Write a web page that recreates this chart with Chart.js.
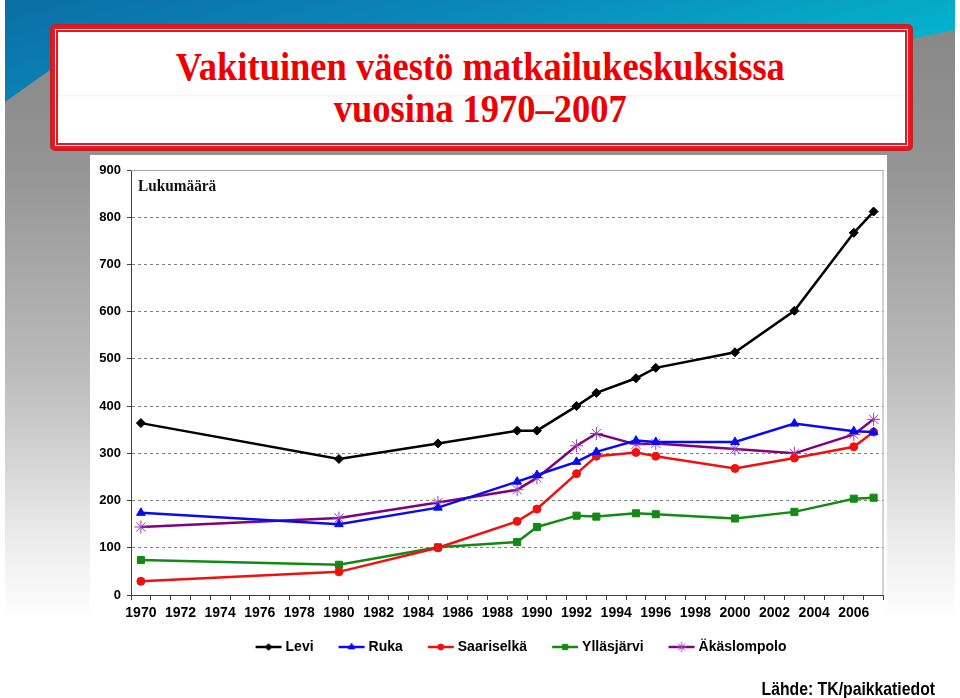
<!DOCTYPE html>
<html>
<head>
<meta charset="utf-8">
<title>Vakituinen väestö matkailukeskuksissa</title>
<script src="https://cdn.jsdelivr.net/npm/chart.js@4.4.0/dist/chart.umd.min.js"></script>
<style>
  html, body { margin: 0; padding: 0; background: #fff; }
  #slide { position: relative; width: 960px; height: 698px; overflow: hidden; background: #fff; }
  #back {
    position: absolute; left: 5px; top: 0; width: 950px; height: 698px;
    background: linear-gradient(to bottom, #858585 0px, #939393 160px, #bdbdbd 380px, #ececec 540px, #fff 620px);
  }
  #band {
    position: absolute; left: 5px; top: 0; width: 950px; height: 110px;
    background: linear-gradient(165deg, #0a6ea4 0%, #0a86b8 35%, #06a6c6 65%, #00c6dc 100%);
    clip-path: polygon(0 0, 950px 0, 950px 30px, 900px 40px, 45px 70px, 0 102px);
  }
  #tbox {
    position: absolute; left: 50px; top: 24px; width: 863px; height: 127px;
    box-sizing: border-box; border: 2px solid #b8262c; border-radius: 5px;
    background: #ea1820; padding: 3px;
  }
  #tin { box-sizing: border-box; width: 100%; height: 100%; background: #fff; padding: 1px; }
  #tin2 { box-sizing: border-box; width: 100%; height: 100%; border: 2px solid #ea1820;
    background: linear-gradient(to bottom, #fff 0px, #fff 62px, #f4f4f4 63px, #fff 66px); }
  #title {
    position: absolute; left: 0; top: 45px; width: 960px; text-align: center;
    font: bold 41px "Liberation Serif", "Times New Roman", serif; line-height: 42px;
    color: #ee0000; transform: scaleX(0.89); transform-origin: 483px 0;
  }
  #panel { position: absolute; left: 90px; top: 155px; width: 797px; height: 470px; background: #fff; }
  #chart { position: absolute; left: 90px; top: 155px; }
  #source {
    position: absolute; right: 25px; top: 679px; white-space: nowrap;
    font: bold 19px "Liberation Sans", Arial, sans-serif; line-height: 19px; color: #000;
    transform: scaleX(0.83); transform-origin: right top;
  }
</style>
</head>
<body>
<div id="slide">
  <div id="back"></div>
  <div id="band"></div>
  <div id="tbox"><div id="tin"><div id="tin2"></div></div></div>
  <div id="title">Vakituinen väestö matkailukeskuksissa<br>vuosina 1970–2007</div>
  <div id="panel"></div>
  <canvas id="chart" width="801" height="528"></canvas>
  <div id="source">Lähde: TK/paikkatiedot</div>
</div>
<script>
// years with a value, same for every series
const years = [1970, 1980, 1985, 1989, 1990, 1992, 1993, 1995, 1996, 2000, 2003, 2006, 2007];

const levi        = [364, 288, 321, 348, 348, 400, 428, 459, 481, 514, 602, 767, 812];
const ruka        = [174, 150, 185, 240, 254, 282, 303, 327, 324, 324, 363, 347, 345];
const saariselka  = [ 29,  49, 100, 156, 182, 257, 294, 302, 294, 268, 290, 314, 345];
const yllasjarvi  = [ 74,  64, 101, 112, 144, 168, 166, 173, 171, 162, 176, 204, 206];
const akaslompolo = [144, 163, 196, 223, 248, 316, 342, 319, 321, 309, 300, 340, 372];

const seriesNames = ['Levi', 'Ruka', 'Saariselkä', 'Ylläsjärvi', 'Äkäslompolo'];

// x axis categories 1970..2007, labels shown every second year
const axisYears = Array.from({ length: 38 }, (_, i) => String(1970 + i));
const yMax = 900;
const yStep = 100;

const sansFont = '"Liberation Sans", Arial, sans-serif';

const styles = [
  { color: '#000000', mark: '#000000', point: 'rectRot', radius: 4.5 },
  { color: '#0a0af0', mark: '#0a0af0', point: 'triangle', radius: 5 },
  { color: '#f01010', mark: '#f01010', point: 'circle', radius: 4 },
  { color: '#148a14', mark: '#148a14', point: 'rect', radius: 5 },
  { color: '#800080', mark: '#9a40b8', point: 'star', radius: 6.5 }
];

const toPoints = values => years.map((yr, i) => ({ x: String(yr), y: values[i] }));
const allSeries = [levi, ruka, saariselka, yllasjarvi, akaslompolo];

// small line + marker icons for the legend
function legendIcon(s) {
  const c = document.createElement('canvas');
  c.width = 28;
  c.height = 12;
  const g = c.getContext('2d');
  g.strokeStyle = s.color;
  g.lineWidth = 2.5;
  g.beginPath();
  g.moveTo(1, 6);
  g.lineTo(27, 6);
  g.stroke();
  g.fillStyle = s.mark;
  g.strokeStyle = s.mark;
  g.lineWidth = 1;
  Chart.helpers.drawPoint(g, { pointStyle: s.point, radius: s.radius * 0.75, rotation: 0, borderWidth: 1 }, 14, 6);
  return c;
}
const icons = styles.map(legendIcon);

// gray frame on top and right of the plot, plus the unit label
const plotFrame = {
  id: 'plotFrame',
  beforeDatasetsDraw(chart) {
    const { ctx, chartArea: a } = chart;
    ctx.save();
    ctx.strokeStyle = '#a8a8a8';
    ctx.lineWidth = 1;
    ctx.beginPath();
    ctx.moveTo(a.left, a.top + 0.5);
    ctx.lineTo(a.right - 0.5, a.top + 0.5);
    ctx.lineTo(a.right - 0.5, a.bottom);
    ctx.stroke();
    ctx.fillStyle = '#111';
    ctx.font = 'bold 17px "Liberation Serif", "Times New Roman", serif';
    ctx.textBaseline = 'alphabetic';
    ctx.translate(a.left + 7, a.top + 21);
    ctx.scale(0.9, 1);
    ctx.fillText('Lukumäärä', 0, 0);
    ctx.restore();
  }
};

// the legend in the picture sits a bit right of centre and close under the years
const legendShift = {
  id: 'legendShift',
  afterLayout(chart) {
    const lg = chart.legend;
    lg.left += 34;
    lg.right += 34;
    lg.top -= 13;
    lg.bottom -= 13;
  }
};

new Chart(document.getElementById('chart'), {
  type: 'line',
  data: {
    labels: axisYears,
    datasets: allSeries.map((vals, i) => ({
      label: seriesNames[i],
      data: toPoints(vals),
      borderColor: styles[i].color,
      backgroundColor: styles[i].mark,
      pointBorderColor: styles[i].mark,
      pointBackgroundColor: styles[i].mark,
      pointStyle: styles[i].point,
      pointRadius: styles[i].radius,
      pointBorderWidth: 1,
      borderWidth: 2.5,
      tension: 0,
      fill: false
    }))
  },
  options: {
    responsive: false,
    animation: false,
    devicePixelRatio: 1,
    layout: { padding: { top: 15, right: 4, left: 0, bottom: 6 } },
    plugins: {
      tooltip: { enabled: false },
      legend: {
        position: 'bottom',
        labels: {
          usePointStyle: true,
          pointStyleWidth: 20,
          padding: 28,
          color: '#000',
          font: { family: sansFont, size: 14, weight: 'bold' },
          generateLabels: chart => chart.data.datasets.map((ds, i) => ({
            text: ds.label,
            pointStyle: icons[i],
            fillStyle: ds.borderColor,
            strokeStyle: ds.borderColor,
            lineWidth: 0,
            hidden: false,
            datasetIndex: i,
            fontColor: '#000'
          }))
        }
      }
    },
    scales: {
      x: {
        type: 'category',
        offset: true,
        afterFit: s => { s.height = 30; },
        grid: { offset: true, drawOnChartArea: false, drawTicks: true, tickLength: 5, color: '#404040' },
        border: { color: '#404040', width: 1 },
        ticks: {
          autoSkip: false,
          maxRotation: 0,
          padding: 5,
          color: '#000',
          font: { family: sansFont, size: 14, weight: 'bold' },
          callback: function (val) {
            const yr = Number(this.getLabelForValue(val));
            return yr % 2 === 0 ? String(yr) : '';
          }
        }
      },
      y: {
        min: 0,
        max: yMax,
        afterFit: s => { s.width = 41; },
        grid: { color: '#808080', tickLength: 4, tickColor: '#404040' },
        border: { color: '#404040', width: 1, dash: [3, 3] },
        ticks: {
          stepSize: yStep,
          padding: 6,
          color: '#000',
          font: { family: sansFont, size: 13, weight: 'bold' }
        }
      }
    }
  },
  plugins: [plotFrame, legendShift]
});
</script>
</body>
</html>
